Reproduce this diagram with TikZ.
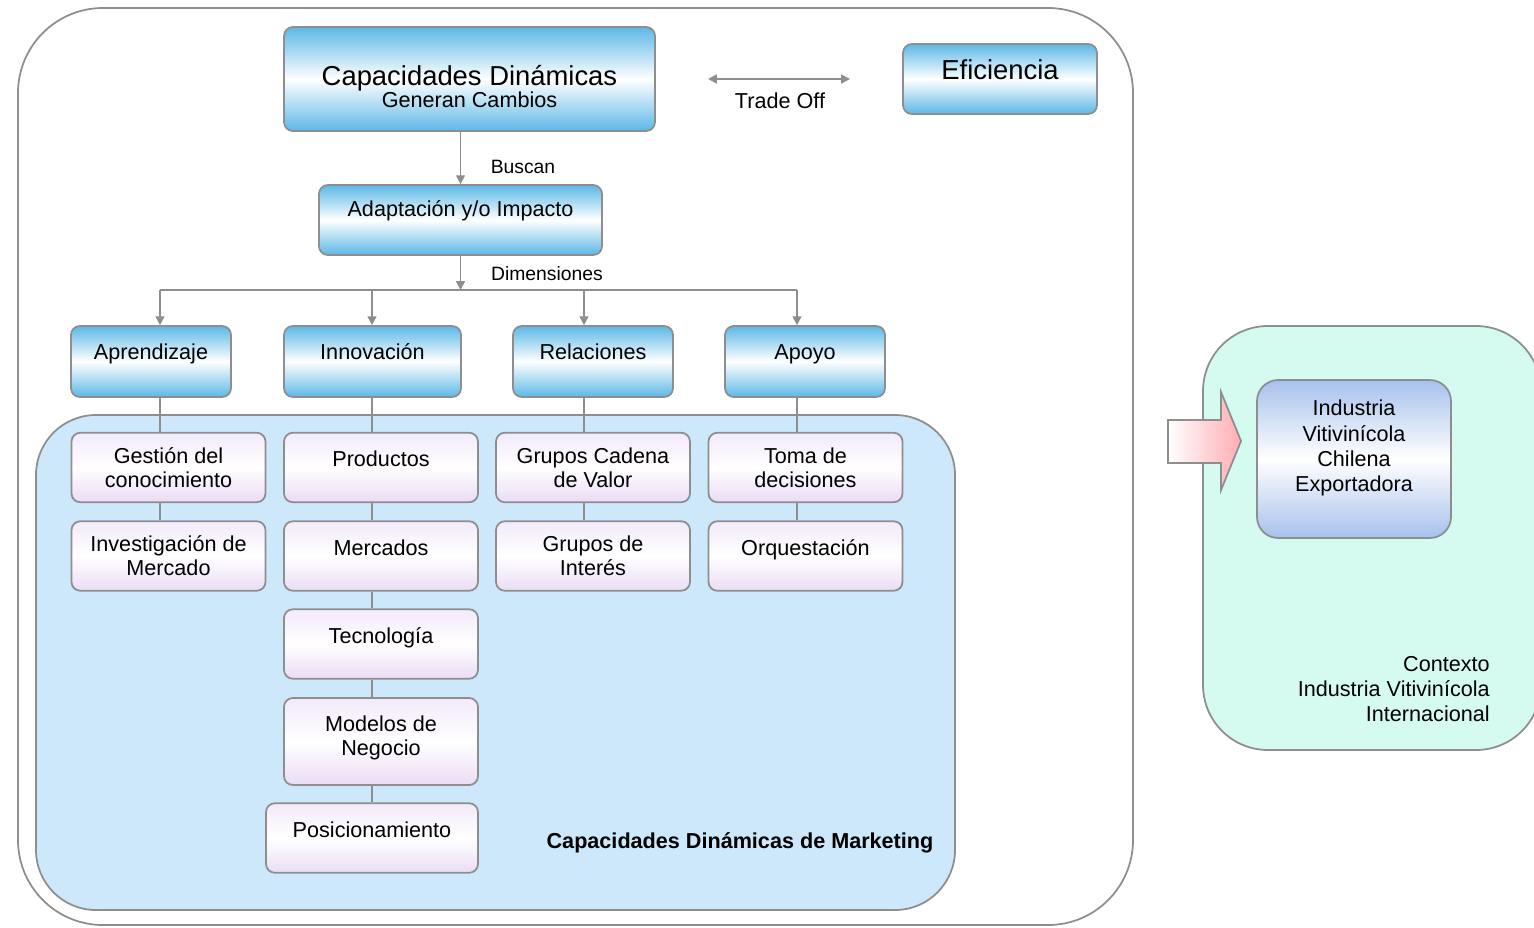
\documentclass[tikz,border=0pt]{standalone}
\usepackage{fontspec}
\setmainfont{Liberation Sans}
\usepackage{tikz}
\usetikzlibrary{arrows.meta,positioning,calc}
\definecolor{CDblue}{HTML}{5CB8E6}
\definecolor{CDlav}{HTML}{EADCF5}
\definecolor{CDindus}{HTML}{A7C1EC}
\definecolor{CDmkt}{HTML}{CCE8FA}
\definecolor{CDctx}{HTML}{D5FAF0}
\definecolor{CDline}{HTML}{8E8E8E}
\definecolor{CDpink}{HTML}{FFADB3}
\tikzset{
  cd/base/.style={draw=CDline, line width=1pt, rounded corners=5pt, align=center, inner sep=2pt,
    font=\fontsize{12.3}{13.7}\selectfont},
  cd/blue/.style={cd/base, top color=CDblue, bottom color=CDblue, middle color=white},
  cd/main/.style={cd/blue, minimum width=7.42cm, minimum height=2.08cm},
  cd/dim/.style={cd/blue, minimum width=3.2cm, minimum height=1.42cm, cd/raise=11pt},
  cd/sub/.style={cd/base, top color=CDlav!60, bottom color=CDlav, middle color=white,
    minimum width=3.88cm, minimum height=1.39cm},
  cd/one/.style={cd/raise=9.8pt},
  cd/raise/.style={text height=9pt, text depth=#1},
  cd/frame/.style={draw=CDline, line width=1pt},
  cd/line/.style={draw=CDline, line width=1.1pt},
  cd/arr/.style={cd/line, -{Triangle[length=5pt,width=5pt]}},
  cd/lbl/.style={font=\fontsize{11}{13}\selectfont, inner sep=0pt}
}

\begin{document}
\begin{tikzpicture}[x=0.02cm, y=-0.02cm]
  \useasboundingbox (0,0) rectangle (1534,927);
  \draw[cd/frame, rounded corners=1.7cm] (18,8) rectangle (1133,925);
  \draw[cd/frame, fill=CDmkt, rounded corners=1.2cm] (36,415) rectangle (955,910);
  \draw[cd/frame, fill=CDctx, rounded corners=1.3cm] (1203,326) rectangle (1541,750);

  \node[cd/main, text height=32.9pt, text depth=0pt] (cap) at (469.5,79)
    {{\fontsize{15.6}{17}\selectfont Capacidades Dinámicas}\\[-1pt]Generan Cambios};
  \node[cd/blue, minimum width=3.88cm, minimum height=1.4cm, font=\fontsize{15.6}{18}\selectfont,
    cd/raise=10.5pt, text height=11.5pt] (efic) at (1000,79) {Eficiencia};
  \node[cd/blue, minimum width=5.66cm, minimum height=1.4cm, cd/raise=12.6pt] (adapt) at (460.5,220)
    {Adaptación y/o Impacto};

  \node[cd/dim] (aprend) at (151,361.5) {Aprendizaje};
  \node[cd/dim, minimum width=3.54cm] (innov) at (372.5,361.5) {Innovación};
  \node[cd/dim] (relac) at (593,361.5) {Relaciones};
  \node[cd/dim] (apoyo) at (805,361.5) {Apoyo};

  \node[cd/sub] (gest) at (168.5,467.5) {Gestión del\\conocimiento};
  \node[cd/sub] (inv) at (168.5,556) {Investigación de\\Mercado};
  \node[cd/sub, cd/one] (prod) at (381,467.5) {Productos};
  \node[cd/sub, cd/one] (merc) at (381,556) {Mercados};
  \node[cd/sub, cd/one] (tecn) at (381,644) {Tecnología};
  \node[cd/sub, minimum height=1.74cm, text height=22.7pt, text depth=7pt] (model) at (381,741.5)
    {Modelos de\\Negocio};
  \node[cd/sub, cd/one, minimum width=4.24cm] (posic) at (372,838) {Posicionamiento};
  \node[cd/sub] (grupcad) at (593,467.5) {Grupos Cadena\\de Valor};
  \node[cd/sub] (grupint) at (593,556) {Grupos de\\Interés};
  \node[cd/sub] (toma) at (805.5,467.5) {Toma de\\decisiones};
  \node[cd/sub, cd/one] (orq) at (805.5,556) {Orquestación};

  \node[font=\bfseries\fontsize{12.3}{14}\selectfont] (mktlbl) at (740,843)
    {Capacidades Dinámicas de Marketing};

  \node[cd/base, top color=CDindus, bottom color=CDindus, middle color=white, rounded corners=12pt,
    minimum width=3.88cm, minimum height=3.16cm, font=\fontsize{12.3}{14.5}\selectfont,
    text height=52.5pt, text depth=15pt] (indus) at (1354,459) {Industria\\Vitivinícola\\Chilena\\Exportadora};
  \node[align=right, anchor=east, inner sep=0pt, font=\fontsize{12.3}{14.2}\selectfont] (ctx)
    at (1490,689) {Contexto\\Industria Vitivinícola\\Internacional};

  \shade[draw=CDline, line width=1pt, left color=white, right color=CDpink]
    (1168,420) -- (1221,420) -- (1221,392) -- (1241,441) -- (1221,490) -- (1221,463) -- (1168,463) -- cycle;

  \coordinate (to1) at (708,79);
  \coordinate (to2) at (850,79);
  \draw[cd/line, {Triangle[length=5pt,width=5pt]}-{Triangle[length=5pt,width=5pt]}] (to1) -- (to2);
  \node[cd/lbl, font=\fontsize{12.3}{14}\selectfont] (tradeoff) at (780,101) {Trade Off};

  \draw[cd/arr] (adapt |- cap.south) -- (adapt.north);
  \node[cd/lbl] (buscan) at (523,167) {Buscan};
  \coordinate (bar) at (460.5,290);
  \draw[cd/arr] (adapt.south) -- (bar);
  \node[cd/lbl] (dimlbl) at (547,274) {Dimensiones};

  \coordinate (j1) at (160,290);
  \coordinate (j2) at (372,290);
  \coordinate (j3) at (584,290);
  \coordinate (j4) at (797,290);
  \draw[cd/line] (j1) -- (j4);
  \draw[cd/arr] (j1) -- (j1 |- aprend.north);
  \draw[cd/arr] (j2) -- (j2 |- innov.north);
  \draw[cd/arr] (j3) -- (j3 |- relac.north);
  \draw[cd/arr] (j4) -- (j4 |- apoyo.north);

  \draw[cd/line] (j1 |- aprend.south) -- (j1 |- gest.north);
  \draw[cd/line] (j1 |- gest.south) -- (j1 |- inv.north);
  \draw[cd/line] (j2 |- innov.south) -- (j2 |- prod.north);
  \draw[cd/line] (j2 |- prod.south) -- (j2 |- merc.north);
  \draw[cd/line] (j2 |- merc.south) -- (j2 |- tecn.north);
  \draw[cd/line] (j2 |- tecn.south) -- (j2 |- model.north);
  \draw[cd/line] (j2 |- model.south) -- (j2 |- posic.north);
  \draw[cd/line] (j3 |- relac.south) -- (j3 |- grupcad.north);
  \draw[cd/line] (j3 |- grupcad.south) -- (j3 |- grupint.north);
  \draw[cd/line] (j4 |- apoyo.south) -- (j4 |- toma.north);
  \draw[cd/line] (j4 |- toma.south) -- (j4 |- orq.north);
\end{tikzpicture}
\end{document}
